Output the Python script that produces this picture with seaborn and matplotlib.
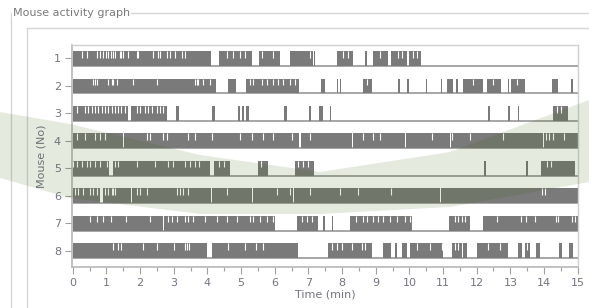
import matplotlib
matplotlib.use("Agg")
import matplotlib.pyplot as plt
from matplotlib.lines import Line2D
from matplotlib.patches import Polygon
from matplotlib.ticker import MultipleLocator
import seaborn as sns

# active periods (start, end) in minutes, per mouse
mouse1 = [(0, 4.12), (4.36, 5.33), (5.54, 6.16), (6.45, 7.14), (7.17, 7.21), (7.84, 8.33),
          (8.68, 8.73), (8.93, 9.38), (9.47, 9.92), (9.98, 10.35)]
mouse2 = [(0, 4.25), (4.62, 4.84), (5.15, 6.71), (7.39, 7.49), (7.84, 7.87), (7.93, 7.97),
          (8.63, 8.88), (9.67, 9.72), (9.93, 9.98), (10.49, 10.52), (10.95, 10.98), (11.11, 11.3),
          (11.38, 11.45), (11.6, 12.2), (12.3, 12.72), (12.93, 12.96), (13.03, 13.43),
          (14.23, 14.42), (14.8, 14.85)]
mouse3 = [(0, 1.65), (1.72, 2.79), (3.07, 3.15), (4.13, 4.24), (4.9, 4.97), (5.02, 5.1),
          (5.15, 5.25), (6.29, 6.37), (7.03, 7.07), (7.33, 7.44), (7.64, 7.68), (12.34, 12.41),
          (12.94, 13.0), (13.22, 13.26), (14.27, 14.7)]
mouse4 = [(0, 1.49), (1.52, 6.72), (6.78, 8.29), (8.33, 9.86), (9.89, 11.2), (11.23, 13.97),
          (14.0, 15)]
mouse5 = [(0, 1.07), (1.2, 4.08), (4.2, 4.67), (5.51, 5.81), (6.61, 7.16), (12.22, 12.27),
          (13.48, 13.53), (13.9, 14.92)]
mouse6 = [(0, 0.81), (0.89, 1.73), (1.77, 4.11), (4.15, 5.33), (5.36, 6.55), (6.58, 10.9),
          (10.93, 15)]
mouse7 = [(0, 2.67), (2.71, 6.01), (6.65, 7.29), (7.44, 7.49), (7.69, 7.74), (8.24, 10.08),
          (11.18, 11.8), (12.2, 15)]
mouse8 = [(0, 3.98), (4.14, 6.70), (7.59, 8.88), (9.22, 9.47), (9.56, 9.62), (9.77, 9.92),
          (10.02, 11.01), (11.26, 11.55), (11.6, 11.7), (12.02, 12.94), (13.22, 13.34),
          (13.43, 13.58), (13.76, 13.88), (14.45, 14.53), (14.75, 14.85)]

# short drops in activity (minutes)
mouse1_dips = [0.27, 0.42, 0.71, 0.81, 0.91, 0.99, 1.06, 1.13, 1.19, 1.26, 1.41, 1.45, 1.50,
               1.65, 1.90, 1.95, 2.40, 2.54, 2.59, 2.79, 2.89, 3.04, 3.24, 3.34, 4.57, 4.77,
               4.97, 5.12, 5.61, 5.96, 7.05, 8.04, 8.19, 9.13, 9.67, 9.77, 10.12, 10.22]
mouse2_dips = [0.59, 0.66, 0.71, 1.06, 1.16, 1.21, 1.31, 1.80, 2.49, 3.63, 3.68, 3.73, 3.88,
               4.08, 5.27, 5.37, 5.61, 5.76, 5.96, 6.11, 6.26, 6.46, 6.60, 8.75, 11.9, 12.5,
               13.2]
mouse3_dips = [0.12, 0.37, 0.46, 0.56, 0.66, 0.76, 0.86, 0.96, 1.06, 1.16, 1.26, 1.36, 1.45,
               1.55, 1.90, 2.0, 2.15, 2.25, 2.35, 2.49, 2.59, 2.69, 14.4, 14.5]
mouse4_dips = [0.12, 0.37, 0.66, 0.81, 0.96, 2.20, 2.30, 2.69, 2.79, 3.43, 3.63, 4.13, 4.97,
               5.32, 5.66, 5.96, 6.50, 7.05, 8.63, 8.93, 9.13, 10.66, 11.26, 11.8, 12.79,
               14.05, 14.15, 14.27, 14.6]
mouse5_dips = [0.02, 0.12, 0.27, 0.42, 0.51, 0.66, 0.81, 1.01, 1.26, 1.36, 1.90, 2.44, 2.84,
               2.99, 3.34, 3.48, 3.63, 3.75, 4.35, 4.5, 5.6, 6.7, 6.85, 7.0, 14.1, 14.2]
mouse6_dips = [0.07, 0.17, 0.32, 0.51, 0.61, 0.71, 0.96, 1.06, 1.16, 1.21, 1.26, 1.90, 2.0,
               2.20, 3.09, 3.19, 3.29, 3.43, 4.57, 6.06, 6.45, 7.05, 7.94, 8.48, 9.47, 13.94,
               14.03]
mouse7_dips = [0.52, 0.71, 0.89, 1.14, 1.58, 2.30, 2.84, 2.94, 3.09, 3.34, 3.43, 3.58, 3.93,
               4.28, 4.57, 4.87, 5.27, 5.36, 5.56, 5.76, 5.96, 6.8, 6.95, 7.1, 8.43, 8.63,
               8.73, 8.93, 9.08, 9.22, 9.42, 9.62, 9.87, 10.02, 11.35, 11.45, 11.55, 11.65,
               12.59, 13.33, 13.46, 13.73, 14.37, 14.42, 14.82, 14.92]
mouse8_dips = [1.19, 1.36, 1.45, 2.10, 2.49, 3.02, 3.34, 3.39, 3.46, 4.62, 5.12, 5.46, 5.66,
               7.69, 7.84, 7.99, 8.29, 8.58, 8.68, 10.22, 10.61, 10.96, 11.35, 11.45, 12.34,
               12.69, 13.5]

mice = [1, 2, 3, 4, 5, 6, 7, 8]
activity = [mouse1, mouse2, mouse3, mouse4, mouse5, mouse6, mouse7, mouse8]
dips = [mouse1_dips, mouse2_dips, mouse3_dips, mouse4_dips,
        mouse5_dips, mouse6_dips, mouse7_dips, mouse8_dips]
t_end = 15

sns.set_style("white")
plt.rcParams["font.family"] = ["DejaVu Sans"]

W, H = 589, 308
fig = plt.figure(figsize=(W / 100, H / 100), dpi=100)
ax = fig.add_axes([72 / W, 1 - 267 / H, (578 - 72) / W, (267 - 45) / H])

bar_col = "#7a7a7a"
half = 0.27
for m, segs, d in zip(mice, activity, dips):
    ax.hlines(m + half, 0, t_end, color="#8e8e8e", lw=1.1, zorder=1)
    ax.broken_barh([(s, e - s) for s, e in segs], (m - half, 2 * half),
                   facecolors=bar_col, edgecolor="none", zorder=2)
    ax.vlines(d, m - half, m - 0.03, colors="white", lw=0.8, zorder=3)

ax.set_xlim(-0.02, 15.01)
ax.set_ylim(8.6, 0.508)
ax.set_yticks(mice)
ax.set_xticks(range(0, 16))
ax.xaxis.set_minor_locator(MultipleLocator(0.5))

lab_col = "#747484"
ax.tick_params(axis="both", which="major", length=5, width=0.8, color="#a0a0a0",
               labelsize=8, labelcolor=lab_col, pad=3)
ax.tick_params(axis="x", which="minor", length=3, width=0.8, color="#a0a0a0", bottom=True)
ax.tick_params(axis="x", which="both", bottom=True)
ax.tick_params(axis="y", left=True)

for side in ["top", "right"]:
    ax.spines[side].set_color("#d0d0d0")
    ax.spines[side].set_linewidth(1.0)
for side in ["left", "bottom"]:
    ax.spines[side].set_color("#b8b8b8")
    ax.spines[side].set_linewidth(1.2)

ax.set_xlabel("Time (min)", fontsize=8, color=lab_col, labelpad=1)
ax.set_ylabel("Mouse (No)", fontsize=8, color=lab_col, labelpad=5)

# group box frame
frame_col = "#d6d6d6"
fig.add_artist(Line2D([11 / W, 1], [1 - 13 / H, 1 - 13 / H], color=frame_col, lw=1))
fig.add_artist(Line2D([11 / W, 11 / W], [1 - 13 / H, 0], color=frame_col, lw=1))
fig.add_artist(Line2D([27 / W, 1], [1 - 28 / H, 1 - 28 / H], color=frame_col, lw=1))
fig.add_artist(Line2D([27 / W, 27 / W], [1 - 28 / H, 0], color=frame_col, lw=1))
fig.text(13 / W, 1 - 13 / H, "Mouse activity graph", fontsize=8, color="#7a7a7a",
         va="center", ha="left",
         bbox=dict(facecolor="white", edgecolor="none", pad=1))

# faint watermark swoosh
top = [(0, 112), (70, 124), (200, 155), (320, 172), (450, 152), (589, 100)]
bot = [(589, 182), (450, 207), (320, 214), (200, 214), (70, 198), (0, 178)]
pts = [(x / W, 1 - y / H) for x, y in top + bot]
fig.add_artist(Polygon(pts, closed=True, transform=fig.transFigure,
                       facecolor=(0.22, 0.38, 0.05), alpha=0.13, edgecolor="none", zorder=5))

fig.savefig("out.png", dpi=100)
